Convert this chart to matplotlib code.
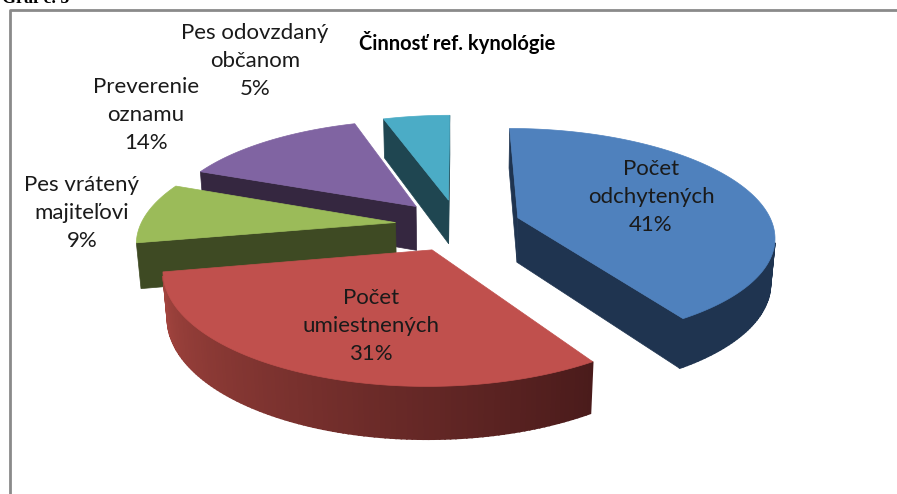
import numpy as np
import matplotlib.pyplot as plt
from matplotlib.patches import Polygon
from matplotlib.colors import to_rgb

# data
labels = ['Počet\nodchytených', 'Počet\numiestnených', 'Pes vrátený\nmajiteľovi',
          'Preverenie\noznamu', 'Pes odovzdaný\nobčanom']
values = [41, 31, 9, 14, 5]
title = 'Činnosť ref. kynológie'

# styles
top_cols = ['#4f81bd', '#c0504d', '#9bbb59', '#8064a2', '#4bacc6']
wall_start = ['#1f3450', '#4a1b1b', '#3e4a23', '#352740', '#1f4651']  # colour at start angle
wall_end = ['#1f3450', '#a4453f', '#3e4a23', '#352740', '#1f4651']    # colour at end angle
label_xy = [(651, 197), (371, 326), (82, 213), (146, 115), (255, 61)]

# fake 3d view
cx, cy = 458, 225
R, h, e = 255, 50, 63
alpha = np.radians(24.5)
D = 1450.0
cam = np.array([0.0, -D*np.cos(alpha), D*np.sin(alpha)])


def proj(x, y, z):
    up = y*np.sin(alpha) + z*np.cos(alpha)
    dep = y*np.cos(alpha) - z*np.sin(alpha)
    s = D/(D + dep)
    return cx + x*s, cy - up*s


def visible(p, n):
    return np.dot(n, cam - p) > 0


fig = plt.figure(figsize=(8.97, 4.94), dpi=100)
ax = fig.add_axes([0, 0, 1, 1])
ax.set_xlim(0, 897)
ax.set_ylim(494, 0)
ax.axis('off')

frac = np.array(values, dtype=float)/sum(values)
bounds = np.concatenate([[0], np.cumsum(frac)])*2*np.pi
mids = (bounds[:-1] + bounds[1:])/2

order = np.argsort(-np.cos(mids))  # far slices first
for i in order:
    t0, t1 = bounds[i], bounds[i+1]
    ox, oy = e*np.sin(mids[i]), e*np.cos(mids[i])
    # radial walls
    for t, n in [(t0, np.array([-np.cos(t0), np.sin(t0), 0])),
                 (t1, np.array([np.cos(t1), -np.sin(t1), 0]))]:
        p = np.array([ox + 0.5*R*np.sin(t), oy + 0.5*R*np.cos(t), -h/2])
        if visible(p, n):
            ex, ey = ox + R*np.sin(t), oy + R*np.cos(t)
            pts = [proj(ox, oy, 0), proj(ex, ey, 0), proj(ex, ey, -h), proj(ox, oy, -h)]
            ax.add_patch(Polygon(pts, closed=True, fc=wall_start[i], ec=wall_start[i], lw=0.5))
    # outer curved wall
    nseg = max(int(np.degrees(t1 - t0)), 4)
    ts = np.linspace(t0, t1, nseg + 1)
    c0, c1 = np.array(to_rgb(wall_start[i])), np.array(to_rgb(wall_end[i]))
    for k in range(nseg):
        a, b = ts[k], ts[k+1]
        m = (a + b)/2
        n = np.array([np.sin(m), np.cos(m), 0])
        p = np.array([ox + R*np.sin(m), oy + R*np.cos(m), -h/2])
        if not visible(p, n):
            continue
        col = c0 + (c1 - c0)*(m - t0)/(t1 - t0)
        pts = [proj(ox + R*np.sin(a), oy + R*np.cos(a), 0),
               proj(ox + R*np.sin(b), oy + R*np.cos(b), 0),
               proj(ox + R*np.sin(b), oy + R*np.cos(b), -h),
               proj(ox + R*np.sin(a), oy + R*np.cos(a), -h)]
        ax.add_patch(Polygon(pts, closed=True, fc=col, ec=col, lw=1.2))
    # top face
    arc = np.linspace(t0, t1, 120)
    pts = [proj(ox, oy, 0)] + [proj(ox + R*np.sin(t), oy + R*np.cos(t), 0) for t in arc]
    ax.add_patch(Polygon(pts, closed=True, fc=top_cols[i], ec=top_cols[i], lw=0.5))

for i in range(len(values)):
    ax.text(label_xy[i][0], label_xy[i][1], f'{labels[i]}\n{values[i]}%', ha='center', va='center',
            fontsize=16, family='Lato', linespacing=1.5, color='#1a1a1a')

ax.text(457, 42, title, ha='center', va='center', fontsize=14.5, family='Lato',
        fontweight='bold', color='black')
ax.text(2, 3, 'Graf č. 5', ha='left', va='baseline', fontsize=13, family='Liberation Serif',
        fontweight='bold', color='black')

# frame
ax.plot([9.5, 9.5, 900], [500, 10.5, 10.5], color='#8a8a8a', lw=2, solid_capstyle='butt')

fig.savefig('out.png', dpi=100)
